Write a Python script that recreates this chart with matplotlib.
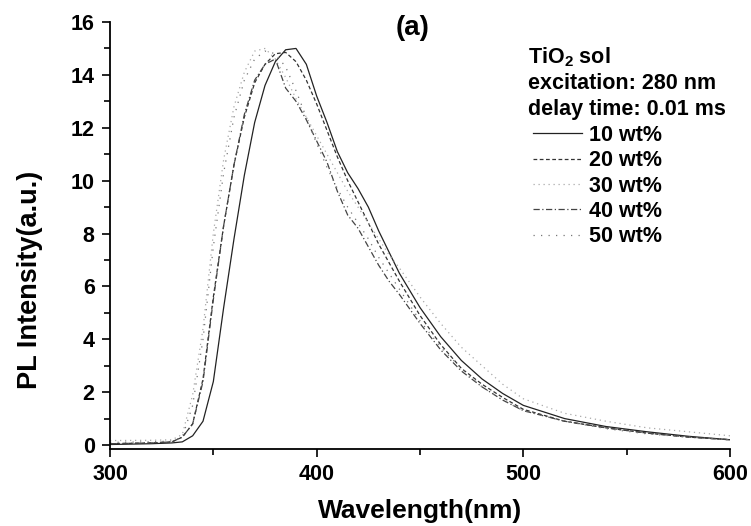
import numpy as np
import matplotlib.pyplot as plt
from matplotlib.ticker import MultipleLocator

plt.rcParams['font.family'] = ['Liberation Sans', 'DejaVu Sans']
plt.rcParams['font.weight'] = 'bold'
plt.rcParams['mathtext.fontset'] = 'custom'
plt.rcParams['mathtext.bf'] = 'Liberation Sans:bold'
plt.rcParams['mathtext.rm'] = 'Liberation Sans:bold'

# wavelength grid (nm)
wl = [300, 320, 330, 335, 340, 345, 350, 355, 360, 365, 370, 375, 380, 385,
      390, 395, 400, 405, 410, 415, 420, 425, 430, 435, 440, 450, 460, 470,
      480, 490, 500, 520, 540, 560, 580, 600]

# PL intensity for each loading
pl_10 = [0.02, 0.05, 0.08, 0.12, 0.35, 0.9, 2.4, 5.2, 7.8, 10.2, 12.2, 13.6,
         14.5, 14.95, 15.0, 14.4, 13.2, 12.2, 11.1, 10.3, 9.7, 9.0, 8.1, 7.3,
         6.5, 5.2, 4.1, 3.2, 2.5, 1.95, 1.5, 1.0, 0.7, 0.5, 0.33, 0.2]
pl_20 = [0.05, 0.08, 0.12, 0.3, 0.8, 2.5, 5.6, 8.3, 10.6, 12.4, 13.7, 14.4,
         14.8, 14.85, 14.5, 13.8, 12.9, 11.9, 10.9, 10.0, 9.2, 8.4, 7.6, 6.9,
         6.2, 4.9, 3.8, 2.9, 2.3, 1.8, 1.35, 0.9, 0.65, 0.45, 0.3, 0.2]
pl_30 = [0.17, 0.18, 0.2, 0.4, 1.9, 4.4, 8.0, 10.8, 12.8, 14.1, 14.9, 15.0,
         14.6, 13.9, 13.1, 12.4, 11.7, 11.0, 10.3, 9.6, 9.0, 8.4, 7.8, 7.2,
         6.7, 5.6, 4.6, 3.7, 3.0, 2.3, 1.75, 1.2, 0.9, 0.65, 0.5, 0.35]
pl_40 = [0.05, 0.08, 0.12, 0.3, 0.8, 2.4, 5.5, 8.3, 10.6, 12.5, 13.8, 14.4,
         14.6, 13.5, 13.0, 12.3, 11.5, 10.7, 9.6, 8.7, 8.2, 7.5, 6.8, 6.2,
         5.7, 4.6, 3.6, 2.8, 2.2, 1.7, 1.3, 0.9, 0.65, 0.45, 0.3, 0.2]
pl_50 = [0.1, 0.12, 0.15, 0.3, 1.5, 4.0, 7.5, 10.3, 12.4, 13.8, 14.6, 14.9,
         14.8, 14.3, 13.4, 12.4, 11.4, 10.5, 9.7, 9.0, 8.4, 7.8, 7.1, 6.5,
         5.9, 4.7, 3.7, 2.9, 2.2, 1.7, 1.3, 0.9, 0.62, 0.42, 0.3, 0.2]

labels = ['10 wt%', '20 wt%', '30 wt%', '40 wt%', '50 wt%']
series = [pl_10, pl_20, pl_30, pl_40, pl_50]
styles = [('-', '#222222'), ((0, (3, 2)), '#333333'), ((0, (1, 3)), '#aaaaaa'),
          ((0, (5, 2, 1, 2)), '#444444'), ((0, (1, 5)), '#777777')]

fig = plt.figure(figsize=(7.51, 5.26), dpi=100)
# axes box: x 110..730 px, y 22..449 px
ax = fig.add_axes([110 / 751, 1 - 449 / 526, 620 / 751, 427 / 526])

handles = []
for y, lab, (ls, c) in zip(series, labels, styles):
    h, = ax.plot(wl, y, linestyle=ls, color=c, lw=0.9, label=lab)
    handles.append(h)

ax.set_xlim(300, 600)
ax.set_ylim(-0.15, 16)
ax.xaxis.set_major_locator(MultipleLocator(100))
ax.xaxis.set_minor_locator(MultipleLocator(50))
ax.yaxis.set_major_locator(MultipleLocator(2))
ax.yaxis.set_minor_locator(MultipleLocator(1))
ax.tick_params(which='both', direction='out', labelsize=15.5, width=1.2, pad=5)
ax.tick_params(which='major', length=6)
ax.tick_params(which='minor', length=4)
for s in ['top', 'right']:
    ax.spines[s].set_visible(False)
for s in ['left', 'bottom']:
    ax.spines[s].set_linewidth(1.3)

ax.set_xlabel('Wavelength(nm)', fontsize=19, fontweight='bold', labelpad=10)
ax.set_ylabel('PL Intensity(a.u.)', fontsize=19.5, fontweight='bold')
ax.yaxis.set_label_coords(-0.108, 0.396)

ax.text(0.488, 0.985, '(a)', transform=ax.transAxes, ha='center', va='center',
        fontsize=20, fontweight='bold')

tx = 0.674
ax.text(tx, 0.918, 'TiO$_\\mathbf{2}$ sol', transform=ax.transAxes, fontsize=15.5, va='center')
ax.text(tx, 0.857, 'excitation: 280 nm', transform=ax.transAxes, fontsize=15.5, va='center')
ax.text(tx, 0.795, 'delay time: 0.01 ms', transform=ax.transAxes, fontsize=15.5, va='center')

leg = ax.legend(handles=handles, loc='upper left', bbox_to_anchor=(0.682, 0.759),
                frameon=False, fontsize=15.5, handlelength=2.3, handletextpad=0.33,
                labelspacing=0.2, borderpad=0, borderaxespad=0)
for t in leg.get_texts():
    t.set_fontweight('bold')

fig.savefig('out.png', dpi=100)
